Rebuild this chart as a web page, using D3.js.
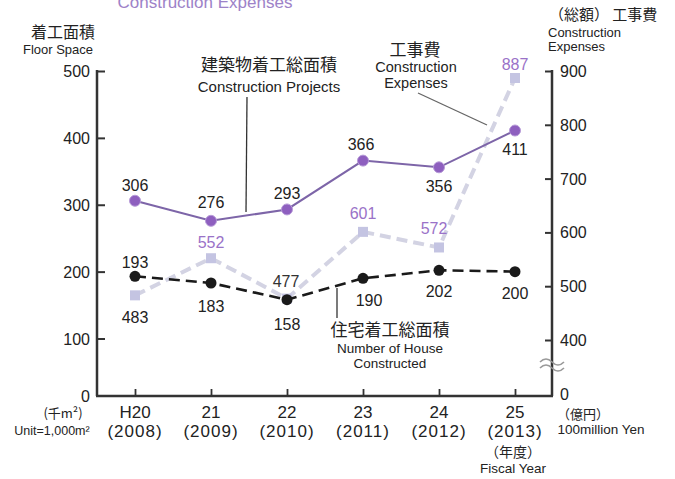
<!DOCTYPE html>
<html><head><meta charset="utf-8">
<script src="https://cdn.jsdelivr.net/npm/d3@7"></script>
<style>
html,body{margin:0;padding:0;background:#fff;}
svg{display:block;font-family:"Liberation Sans",Arial,sans-serif;}
</style></head>
<body><svg id="c" width="675" height="479"></svg>
<script>
const years = ["H20","21","22","23","24","25"];
const yearsWestern = ["(2008)","(2009)","(2010)","(2011)","(2012)","(2013)"];
const constructionProjects = [306,276,293,366,356,411];
const housesConstructed = [193,183,158,190,202,200];
const constructionExpenses = [483,552,477,601,572,887];
const leftTicks = [0,100,200,300,400,500];
const rightTicks = [0,400,500,600,700,800,900];

const svg = d3.select("#c");
const jp = '"Noto Sans CJK JP","Liberation Sans",sans-serif';

const x = d3.scaleLinear().domain([0,5]).range([135,515]);
const yL = d3.scaleLinear().domain([0,100,500]).range([396,338.5,71]);
const yR = d3.scaleLinear().domain([0,300,400,900]).range([396,393,340,71]);
const axL = 97, axR = 552, axB = 396;

function t(xp,yp,s,size,anchor,font,fill){
  return svg.append("text").attr("x",xp).attr("y",yp).attr("text-anchor",anchor||"middle")
    .attr("font-size",size).attr("fill",fill||"#222").attr("font-family",font||null).text(s);
}

// title (cut off at top edge, as in the reference)
t(205,8,"Construction Expenses",17,"middle",null,"#9d82c8");

// left axis
const gL = svg.append("g").attr("transform",`translate(${axL},0)`)
  .call(d3.axisRight(yL).tickValues(leftTicks.filter(d=>d>0)).tickSize(8).tickFormat(""));
gL.select(".domain").remove();
gL.selectAll("line").attr("stroke","#333").attr("stroke-width",2);
svg.append("line").attr("x1",axL).attr("x2",axL).attr("y1",yL(500)-1).attr("y2",axB)
  .attr("stroke","#333").attr("stroke-width",2.5);
svg.selectAll(".lt").data(leftTicks).enter().append("text")
  .attr("x",90).attr("y",d=>yL(d)+6).attr("text-anchor","end")
  .attr("font-size",16).attr("fill","#222").text(d=>d);

// right axis
const gR = svg.append("g").attr("transform",`translate(${axR},0)`)
  .call(d3.axisLeft(yR).tickValues(rightTicks.filter(d=>d>0)).tickSize(7).tickFormat(""));
gR.select(".domain").remove();
gR.selectAll("line").attr("stroke","#333").attr("stroke-width",2);
svg.append("line").attr("x1",axR).attr("x2",axR).attr("y1",yR(900)-1).attr("y2",axB)
  .attr("stroke","#333").attr("stroke-width",2.5);
svg.selectAll(".rt").data(rightTicks).enter().append("text")
  .attr("x",560).attr("y",d=>yR(d)+(d===0?4:6)).attr("text-anchor","start")
  .attr("font-size",16).attr("fill","#222").text(d=>d);
// break symbol
[0,6].forEach(o=>{
  svg.append("path").attr("d",`M${axR-12},${362+o} q6,-6 12,0 t12,0`)
    .attr("fill","none").attr("stroke","#999").attr("stroke-width",1.6);
});

// bottom axis
const gB = svg.append("g").attr("transform",`translate(0,${axB})`)
  .call(d3.axisTop(x).tickValues(d3.range(6)).tickSize(7).tickFormat(""));
gB.select(".domain").remove();
gB.selectAll("line").attr("stroke","#333").attr("stroke-width",1.8);
svg.append("line").attr("x1",axL-1).attr("x2",axR+1).attr("y1",axB).attr("y2",axB)
  .attr("stroke","#333").attr("stroke-width",2.5);
svg.selectAll(".xl").data(years).enter().append("text")
  .attr("x",(d,i)=>x(i)).attr("y",418).attr("text-anchor","middle")
  .attr("font-size",17).attr("fill","#222").text(d=>d);
svg.selectAll(".xl2").data(yearsWestern).enter().append("text")
  .attr("x",(d,i)=>x(i)).attr("y",437).attr("text-anchor","middle")
  .attr("font-size",17).attr("letter-spacing",1).attr("fill","#222").text(d=>d);

// axis unit texts
t(63,38,"着工面積",16,"middle",jp);
t(58,54,"Floor Space",13);
t(63,418,"(千m²)",13,"middle",jp);
t(52,435,"Unit=1,000m²",12.5);
t(549,20,"（総額） 工事費",15,"start",jp);
t(548,37,"Construction",13,"start");
t(548,51,"Expenses",13,"start");
t(583,419,"（億円）",13,"middle",jp);
t(601,434,"100million Yen",13.5);
t(513,457,"（年度）",14,"middle",jp);
t(513,473,"Fiscal Year",13.5);

// annotations
t(269,71,"建築物着工総面積",17,"middle",jp);
t(269,92,"Construction Projects",15);
svg.append("line").attr("x1",247).attr("y1",97).attr("x2",246).attr("y2",212)
  .attr("stroke","#333").attr("stroke-width",1.3);
t(415,56,"工事費",17,"middle",jp);
t(416,72,"Construction",14.5);
t(416,88,"Expenses",14.5);
svg.append("line").attr("x1",418).attr("y1",93).attr("x2",487).attr("y2",125)
  .attr("stroke","#666").attr("stroke-width",1.3);
t(390,336,"住宅着工総面積",17,"middle",jp);
t(390,353,"Number of House",13.5);
t(390,368,"Constructed",13.5);
svg.append("line").attr("x1",337).attr("y1",288).attr("x2",337).attr("y2",318)
  .attr("stroke","#333").attr("stroke-width",1.3);

// series: expenses (light dashed, squares)
const lineR = d3.line().x((d,i)=>x(i)).y(d=>yR(d));
const lineL = d3.line().x((d,i)=>x(i)).y(d=>yL(d));
svg.append("path").datum(constructionExpenses).attr("d",lineR)
  .attr("fill","none").attr("stroke","#d3d3e3").attr("stroke-width",4)
  .attr("stroke-dasharray","11,6");
svg.selectAll(".sq").data(constructionExpenses).enter().append("rect")
  .attr("x",(d,i)=>x(i)-5).attr("y",d=>yR(d)-5).attr("width",10).attr("height",10)
  .attr("fill","#c4c4e2");

// projects
svg.append("path").datum(constructionProjects).attr("d",lineL)
  .attr("fill","none").attr("stroke","#7d65a8").attr("stroke-width",2);
svg.selectAll(".pc").data(constructionProjects).enter().append("circle")
  .attr("cx",(d,i)=>x(i)).attr("cy",d=>yL(d)).attr("r",5.5)
  .attr("fill","#8e5fbf").attr("stroke","#b79bd8").attr("stroke-width",1);

// houses
svg.append("path").datum(housesConstructed).attr("d",lineL)
  .attr("fill","none").attr("stroke","#1a1a1a").attr("stroke-width",2.6)
  .attr("stroke-dasharray","11,6");
svg.selectAll(".hc").data(housesConstructed).enter().append("circle")
  .attr("cx",(d,i)=>x(i)).attr("cy",d=>yL(d)).attr("r",5.5).attr("fill","#1a1a1a");

// value labels
const projOff = [[0,-15],[0,-18],[0,-15],[-2,-16],[0,20],[0,19]];
const houseOff = [[0,-13],[0,24],[0,25],[6,23],[0,22],[0,22]];
const expOff = [[0,23],[0,-15],[-1,-17],[0,-18],[-5,-18],[0,-13]];
const expColor = ["#222","#9a72c8","#333","#9a72c8","#9a72c8","#9a72c8"];
svg.selectAll(".pl").data(constructionProjects).enter().append("text")
  .attr("x",(d,i)=>x(i)+projOff[i][0]).attr("y",(d,i)=>yL(d)+projOff[i][1]+5)
  .attr("text-anchor","middle").attr("font-size",16).attr("fill","#222").text(d=>d);
svg.selectAll(".hl").data(housesConstructed).enter().append("text")
  .attr("x",(d,i)=>x(i)+houseOff[i][0]).attr("y",(d,i)=>yL(d)+houseOff[i][1]+5)
  .attr("text-anchor","middle").attr("font-size",16).attr("fill","#222").text(d=>d);
svg.selectAll(".el").data(constructionExpenses).enter().append("text")
  .attr("x",(d,i)=>x(i)+expOff[i][0]).attr("y",(d,i)=>yR(d)+expOff[i][1]+5)
  .attr("text-anchor","middle").attr("font-size",16).attr("fill",(d,i)=>expColor[i]).text(d=>d);
</script></body></html>
